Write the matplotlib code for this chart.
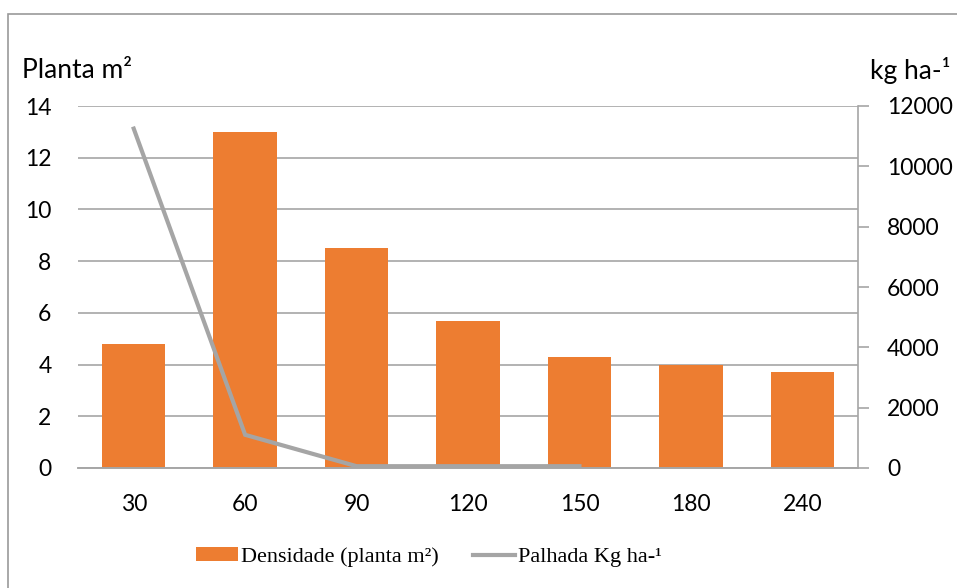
import matplotlib

matplotlib.use("Agg")
import matplotlib.pyplot as plt
from matplotlib.patches import Rectangle
import numpy as np

# days after sowing
categories = ["30", "60", "90", "120", "150", "180", "240"]
densidade = [4.8, 13.0, 8.5, 5.7, 4.3, 4.0, 3.7]  # planta m²
palhada = [11250, 1100, 60, 60, 60]  # kg ha-¹, only up to 150

ORANGE = "#ED7D31"
GRAY = "#A5A5A5"
GRID = "#A6A6A6"
SANS = "Lato"
SERIF = "Liberation Serif"

fig = plt.figure(figsize=(9.57, 5.88), dpi=100)
ax = fig.add_axes([78 / 957, 1 - 468 / 588, 780 / 957, 362 / 588])
ax2 = ax.twinx()

x = np.arange(len(categories))
ax.bar(x, densidade, width=0.57, color=ORANGE, zorder=2, label="Densidade (planta m²)")
ax2.plot(x[: len(palhada)], palhada, color=GRAY, lw=3, zorder=3,
         solid_joinstyle="miter", label="Palhada Kg ha-¹")

ax.set_xlim(-0.5, len(categories) - 0.5)
ax.set_ylim(0, 14)
ax.set_yticks(range(0, 15, 2))
ax2.set_ylim(0, 12000)
ax2.set_yticks(range(0, 12001, 2000))
ax.set_xticks(x, categories)

ax.yaxis.grid(True, color=GRID, lw=1.2, zorder=0)
ax.set_axisbelow(True)

for a in (ax, ax2):
    for s in ("top", "left", "right"):
        a.spines[s].set_visible(False)
    a.spines["bottom"].set_color(GRID)
    a.spines["bottom"].set_linewidth(1.2)
ax2.spines["right"].set_visible(True)
ax2.spines["right"].set_color(GRID)
ax2.spines["right"].set_linewidth(1.2)

ax.tick_params(axis="x", length=0, pad=19, labelsize=16.5)
ax.tick_params(axis="y", length=0, pad=19, labelsize=16.5)
ax2.tick_params(axis="y", length=8, width=1.2, color=GRID, pad=13, labelsize=16.5)
for lab in ax.get_xticklabels() + ax.get_yticklabels() + ax2.get_yticklabels():
    lab.set_fontfamily(SANS)

fig.text(22 / 957, 1 - 70 / 588, "Planta m²", fontsize=19, family=SANS,
         ha="left", va="center")
fig.text(951 / 957, 1 - 70 / 588, "kg ha-¹", fontsize=19, family=SANS,
         ha="right", va="center")

handles = [ax.patches[0], ax2.lines[0]]
labels = ["Densidade (planta m²)", "Palhada Kg ha-¹"]
fig.legend(handles, labels, loc="center", bbox_to_anchor=(0.448, 1 - 557 / 588),
           ncol=2, frameon=False, prop={"family": SERIF, "size": 16},
           handlelength=1.9, handleheight=0.55, handletextpad=0.12,
           columnspacing=1.55)

fig.add_artist(Rectangle((8 / 957, -0.1), 1.2, 1 - 14 / 588 + 0.1,
                         transform=fig.transFigure, fill=False,
                         edgecolor="#9A9A9A", lw=1.2))

fig.savefig("out.png", dpi=100)
